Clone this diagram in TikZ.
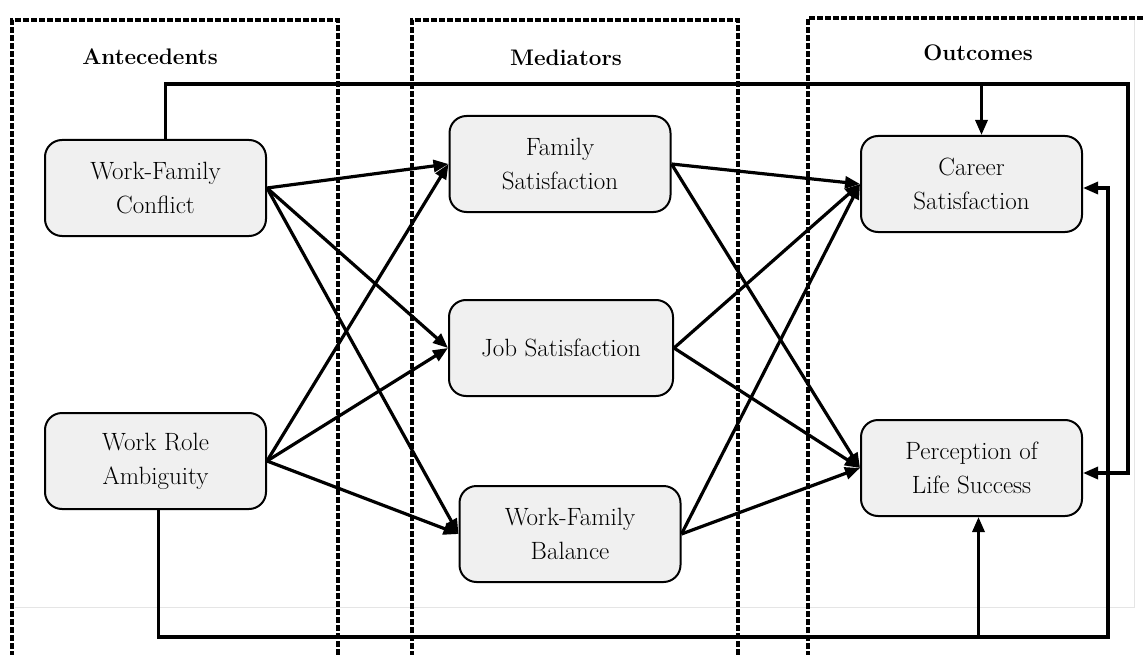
\documentclass[tikz,border=0pt]{standalone}
\usetikzlibrary{arrows.meta}
\begin{document}
\begin{tikzpicture}[x=1pt,y=-1pt,
  box/.style={draw=black, line width=2pt, rounded corners=17pt, fill=black!6,
    minimum width=221pt, minimum height=96pt, align=center, inner sep=0pt,
    font=\fontsize{25}{34}\selectfont},
  group/.style={draw=black, line width=3.4pt, dash pattern=on 6pt off 2pt},
  title/.style={font=\fontsize{22.5}{26}\selectfont\bfseries},
  link/.style={draw=black, line width=3.2pt, -{Triangle[length=15pt,width=12pt]}},
  faint/.style={draw=black!10, line width=1pt}]
\useasboundingbox (0,0) rectangle (1145,655);
% faint background frame
\draw[faint] (15,607) -- (1134,607) -- (1134,20);
% group frames
\draw[group] (12,657) -- (12,20) -- (338,20) -- (338,657);
\draw[group] (412,657) -- (412,20) -- (738,20) -- (738,657);
\draw[group] (808,657) -- (808,18) -- (1147,18);
\node[title] (tA) at (150,57) {Antecedents};
\node[title] (tM) at (566,58) {Mediators};
\node[title] (tO) at (978,53) {Outcomes};
% nodes
\node[box] (WFC) at (155.5,188) {Work-Family\\Conflict};
\node[box] (WRA) at (155.5,461) {Work Role\\Ambiguity};
\node[box] (FS) at (560,164) {Family\\Satisfaction};
\node[box, minimum width=224pt] (JS) at (561,348) {Job Satisfaction};
\node[box] (WFB) at (570,534) {Work-Family\\Balance};
\node[box] (CS) at (971.5,184) {Career\\Satisfaction};
\node[box] (PLS) at (971.5,468) {Perception of\\Life Success};
% coordinates for feedback paths
\coordinate (topR) at (1128,84);
\coordinate (botR) at (1108,637);
% antecedents -> mediators
\foreach \s in {WFC,WRA}{
  \foreach \t in {FS,JS,WFB}{
    \draw[link] (\s.east) -- (\t.west);
  }
}
% mediators -> outcomes
\foreach \s in {FS,JS,WFB}{
  \foreach \t in {CS,PLS}{
    \draw[link] (\s.east) -- (\t.west);
  }
}
% feedback from WFC
\draw[link] ([xshift=10pt]WFC.north) |- (topR) |- ([yshift=-5pt]PLS.east);
\draw[link] ([xshift=10pt]CS.north |- topR) -- ([xshift=10pt]CS.north);
% feedback from WRA
\draw[link] ([xshift=3pt]WRA.south) |- (botR) |- ([yshift=-4pt]CS.east);
\draw[link] ([xshift=7pt]PLS.south |- botR) -- ([xshift=7pt]PLS.south);
\end{tikzpicture}
\end{document}
